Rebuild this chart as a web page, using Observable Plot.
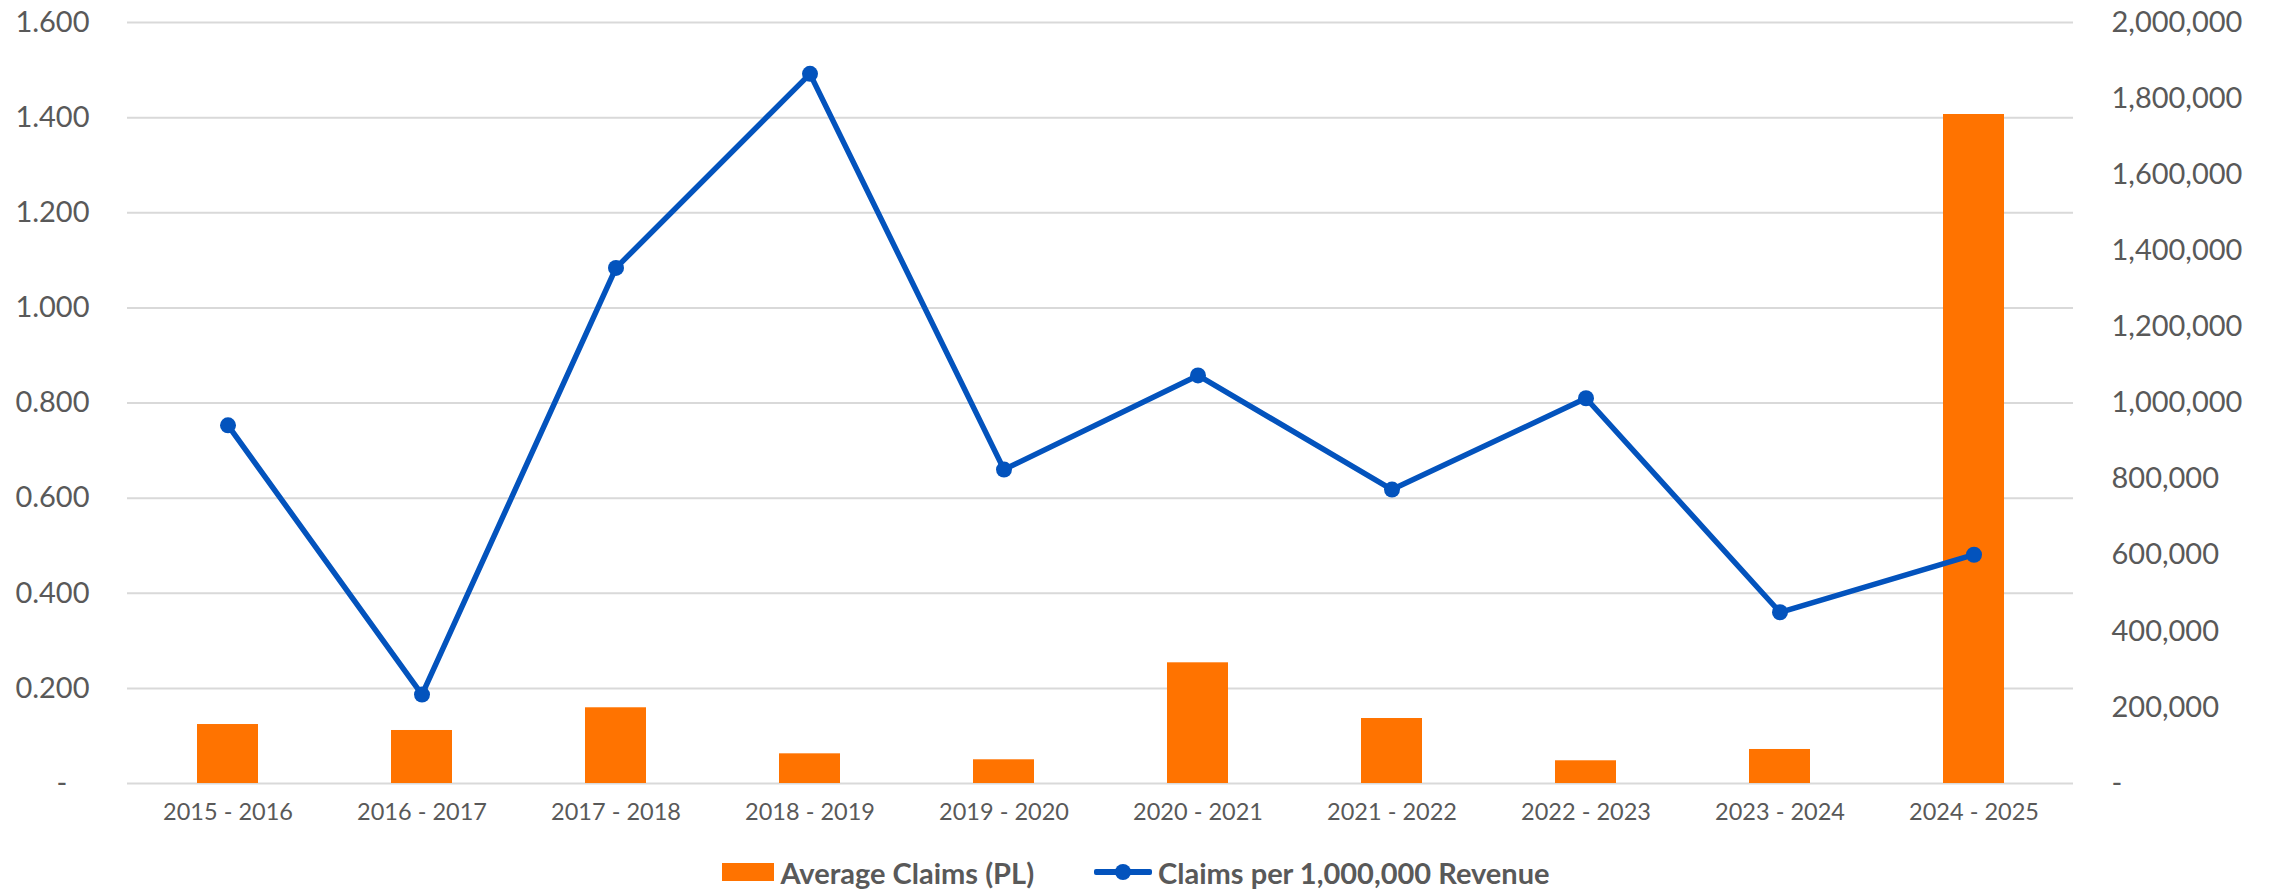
<!DOCTYPE html>
<html>
<head>
<meta charset="utf-8">
<script src="https://cdn.jsdelivr.net/npm/d3@7"></script>
<script src="https://cdn.jsdelivr.net/npm/@observablehq/plot@0.6"></script>
<style>
  html, body { margin: 0; padding: 0; background: #fff; }
  #chart svg { display: block; }
  .legend { display: flex; justify-content: center; align-items: center; gap: 60px;
    font-family: Lato, "Open Sans", sans-serif; font-weight: bold; font-size: 29px; color: #595959;
    margin-top: 10px; height: 48px; }
  .legend .item { display: flex; align-items: center; gap: 6px; }
  .sw-bar { width: 52px; height: 18px; background: #FF7300; display: inline-block; }
  .sw-line { width: 58px; height: 18px; display: inline-block; position: relative; }
  .sw-line::before { content: ""; position: absolute; left: 0; right: 0; top: 6px; height: 6px; background: #0353BD; border-radius: 2px; }
  .sw-line::after { content: ""; position: absolute; left: 21px; top: 1px; width: 16px; height: 16px; background: #0353BD; border-radius: 50%; }
</style>
</head>
<body>
<div id="chart"></div>
<div class="legend">
  <div class="item"><span class="sw-bar"></span><span>Average Claims (PL)</span></div>
  <div class="item"><span class="sw-line"></span><span>Claims per 1,000,000 Revenue</span></div>
</div>
<script>
const categories = ["2015 - 2016","2016 - 2017","2017 - 2018","2018 - 2019","2019 - 2020","2020 - 2021","2021 - 2022","2022 - 2023","2023 - 2024","2024 - 2025"];
const averageClaims = [155000, 139300, 199000, 78000, 62300, 317200, 170800, 59700, 89400, 1758200];
const claimsPerMillion = [0.753, 0.187, 1.084, 1.492, 0.660, 0.858, 0.618, 0.810, 0.360, 0.481];
const leftTicks = [0, 0.2, 0.4, 0.6, 0.8, 1.0, 1.2, 1.4, 1.6];
const rightTicks = [0, 200000, 400000, 600000, 800000, 1000000, 1200000, 1400000, 1600000, 1800000, 2000000];

const leftMax = 1.6, rightMax = 2000000;
const toLeft = v => v / rightMax * leftMax;

const rows = categories.map((c, i) => ({cat: c, bar: averageClaims[i], barL: toLeft(averageClaims[i]), line: claimsPerMillion[i]}));

const font = "Lato, 'Open Sans', sans-serif";
const grey = "#595959";

const chart = Plot.plot({
  width: 2272,
  height: 838,
  marginTop: 22,
  marginBottom: 55,
  marginLeft: 127,
  marginRight: 199,
  style: {fontFamily: font, background: "#fff"},
  x: {domain: categories, paddingInner: 0.686, paddingOuter: 0.343, align: 0.5},
  y: {domain: [0, leftMax]},
  marks: [
    Plot.ruleY(leftTicks, {stroke: "#D9D9D9", strokeWidth: 2}),
    Plot.barY(rows, {x: "cat", y: "barL", fill: "#FF7300"}),
    Plot.line(rows, {x: "cat", y: "line", stroke: "#0353BD", strokeWidth: 5.5, strokeLinejoin: "round"}),
    Plot.dot(rows, {x: "cat", y: "line", r: 8, fill: "#0353BD", stroke: "none"}),
    Plot.axisY(leftTicks, {anchor: "left", tickSize: 0, tickPadding: 38, fontSize: 29, fill: grey,
      tickFormat: d => d === 0 ? "-\u00a0\u00a0\u00a0" : d.toFixed(3), label: null}),
    Plot.axisY(rightTicks.map(toLeft), {anchor: "right", tickSize: 0, tickPadding: 38, fontSize: 29, fill: grey,
      tickFormat: (d, i) => rightTicks[i] === 0 ? "-" : d3.format(",")(rightTicks[i]), label: null}),
    Plot.axisX({tickSize: 0, tickPadding: 20, fontSize: 23.5, fill: grey, label: null})
  ]
});
document.getElementById("chart").appendChild(chart);
</script>
</body>
</html>
